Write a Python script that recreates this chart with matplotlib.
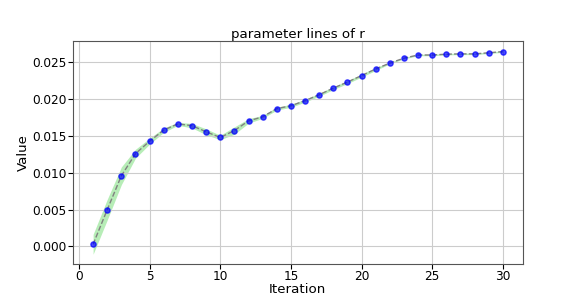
import matplotlib
matplotlib.use('Agg')
import matplotlib.pyplot as plt
import numpy as np

iterations = np.arange(1, 31)
mean_r = [0.0003, 0.0050, 0.0096, 0.0126, 0.0143, 0.0158, 0.01665, 0.0164, 0.01557, 0.0148,
          0.01574, 0.01705, 0.0176, 0.01872, 0.0191, 0.0198, 0.0206, 0.0215, 0.02232, 0.0232,
          0.0241, 0.0249, 0.02557, 0.0260, 0.0260, 0.02611, 0.02615, 0.02615, 0.0263, 0.02646]
std_r = [0.00135, 0.0014, 0.0012, 0.0006, 0.0004, 0.0003, 0.0002, 0.0003, 0.0004, 0.0003,
         0.0005, 0.0003, 0.0002, 0.0002, 0.0002, 0.0002, 0.0002, 0.0002, 0.0002, 0.0002,
         0.0002, 0.0001, 0.0001, 0.0001, 0.0001, 0.0001, 0.0001, 0.0001, 0.0001, 0.0001]

mean_r = np.array(mean_r)
std_r = np.array(std_r)

fig = plt.figure(figsize=(5.81, 3.02), dpi=100)
ax = fig.add_axes([0.125, 0.127, 0.7745, 0.738])

ax.fill_between(iterations, mean_r - std_r, mean_r + std_r, color='limegreen', alpha=0.35, linewidth=0)
ax.plot(iterations, mean_r, linestyle='--', color='gray', linewidth=1)
ax.scatter(iterations, mean_r, color='blue', alpha=0.7, s=14, zorder=3)

ax.set_title('parameter lines of r', fontsize=9.6, pad=0.5)
ax.set_xlabel('Iteration', fontsize=9.6, labelpad=0)
ax.set_ylabel('Value', fontsize=9.6, labelpad=2)
ax.tick_params(labelsize=8.7, length=3.5, pad=0.8)
ax.set_xticks([0, 5, 10, 15, 20, 25, 30])
ax.set_yticks([0.0, 0.005, 0.010, 0.015, 0.020, 0.025])
ax.set_ylim(-0.00233, 0.02793)
ax.set_xlim(-0.45, 31.4)
ax.grid(True, color='#cccccc', linewidth=0.8)
for s in ax.spines.values():
    s.set_color('#555555')

fig.savefig('out.png', dpi=100)
